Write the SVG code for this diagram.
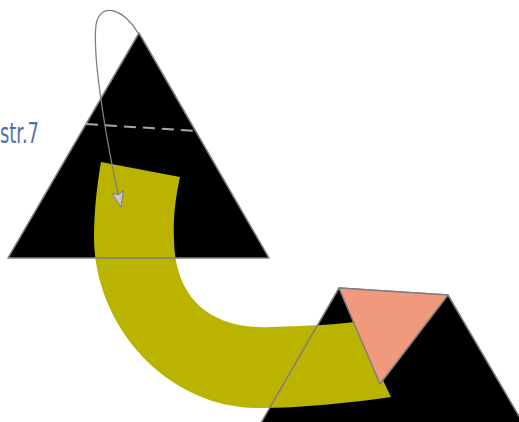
<svg xmlns="http://www.w3.org/2000/svg" width="519" height="422" viewBox="0 0 519 422">
  <defs>
    <style>
      .fillblack { fill: #000000; stroke: none; }
      .outline { fill: none; stroke: #808080; stroke-width: 1.5; stroke-linejoin: round; }
      .band { fill: #bab400; stroke: none; }
      .salmon { fill: #f0997c; stroke: #808080; stroke-width: 1.5; stroke-linejoin: round; }
      .dash { fill: none; stroke: #a6a6a6; stroke-width: 2; stroke-dasharray: 12 7; }
      .conn { fill: none; stroke: #808080; stroke-width: 1.3; }
      .label { font-family: "DejaVu Sans Condensed", "Liberation Sans Narrow", "Liberation Sans", sans-serif; font-size: 28px; fill: #5070b5; }
    </style>
    <marker id="arrow" viewBox="0 0 17 13" refX="16" refY="6.5" markerWidth="17" markerHeight="13" markerUnits="userSpaceOnUse" orient="auto">
      <path d="M0.5,0.5 L16,6.5 L0.5,12.5 L3.5,6.5 Z" fill="#c8c8cc" stroke="#808080" stroke-width="1"/>
    </marker>
  </defs>

  <g id="triangle-left-fill">
    <polygon class="fillblack" points="139,33 269,258 8,258"/>
  </g>
  <g id="shape-right-fill">
    <polygon class="fillblack" points="339,288 448,295 530,435 254,435"/>
  </g>

  <g id="band">
    <path class="band" d="M101,162 L180,177 C175,200 173,220 174,240 C175,300 212,330 272,327 C302,326 330,325 355,322 L391,397 C350,403 300,408 260,408 C170,409 96,330 94,240 C94,210 97,185 101,162 Z"/>
  </g>

  <g id="outlines">
    <polygon class="outline" points="139,33 269,258 8,258"/>
    <polyline class="outline" points="254,435 339,288 448,295 530,435"/>
  </g>

  <g id="triangle-salmon">
    <polygon class="salmon" points="339,288 448,295 380,384"/>
  </g>

  <g id="dashed-line">
    <line class="dash" x1="86" y1="124" x2="197" y2="131"/>
  </g>

  <g id="label">
    <text class="label" x="0" y="143" textLength="39" lengthAdjust="spacingAndGlyphs">str.7</text>
  </g>

  <g id="connectors">
    <path class="conn" d="M138,33 C125,10 100,0 96,25 C92,60 108,150 121,207" marker-end="url(#arrow)"/>
  </g>
</svg>
